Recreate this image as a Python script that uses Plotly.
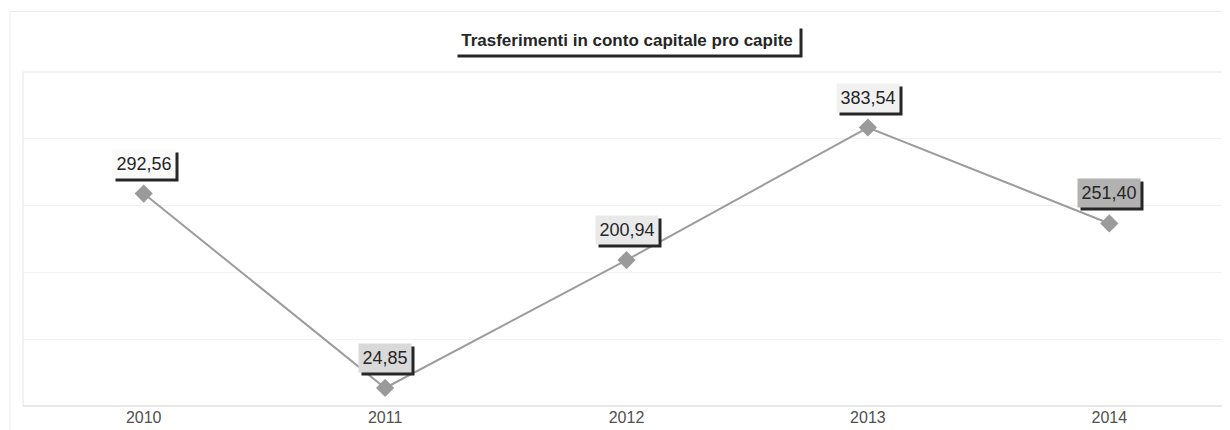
import plotly.graph_objects as go

years = ["2010", "2011", "2012", "2013", "2014"]
values = [292.56, 24.85, 200.94, 383.54, 251.40]
labels = ["292,56", "24,85", "200,94", "383,54", "251,40"]
label_bg = ["#fafafa", "#d9d9d9", "#e9e9e9", "#f1f1f1", "#b2b2b2"]

FONT = "Arial, Liberation Sans, sans-serif"
LIFT = 30

fig = go.Figure()
fig.add_trace(go.Scatter(
    x=years, y=values, mode="lines+markers",
    line=dict(color="#9c9c9c", width=2),
    marker=dict(symbol="diamond", size=14, color="#9a9a9a"),
    hoverinfo="skip", showlegend=False,
))

annotations = []
for i, (v, t, bg) in enumerate(zip(values, labels, label_bg)):
    w = 56 if len(t) == 6 else 46
    # shadow box (no text)
    annotations.append(dict(
        x=i, y=v, xref="x", yref="y", text="\u00a0", showarrow=False,
        width=w, height=22, font=dict(family=FONT, size=18),
        bgcolor="#262626", borderpad=3, xshift=3, yshift=LIFT - 3,
    ))
    annotations.append(dict(
        x=i, y=v, xref="x", yref="y", text=t, showarrow=False,
        width=w, height=22,
        font=dict(family=FONT, size=18, color="#262626"),
        bgcolor=bg, borderpad=3, xshift=0, yshift=LIFT,
    ))

title = "<b>Trasferimenti in conto capitale pro capite</b>"
annotations.append(dict(
    x=0.5, y=1.0, xref="paper", yref="paper", yanchor="bottom",
    yshift=17 - 3, xshift=3, text="\u00a0", showarrow=False,
    width=336, height=20, font=dict(family=FONT, size=17),
    bgcolor="#262626", borderpad=4,
))
annotations.append(dict(
    x=0.5, y=1.0, xref="paper", yref="paper", yanchor="bottom",
    yshift=17, text=title, showarrow=False, width=336, height=20,
    font=dict(family=FONT, size=17, color="#262626"),
    bgcolor="#ffffff", borderpad=4,
))

fig.update_layout(
    width=1222, height=422,
    margin=dict(l=15, r=0, t=64, b=24),
    paper_bgcolor="white", plot_bgcolor="white",
    annotations=annotations,
    xaxis=dict(
        type="category", range=[-0.5, 4.5], showgrid=False,
        zeroline=False, showline=False,
        tickfont=dict(family=FONT, size=16, color="#505050"),
        ticks="",
    ),
    yaxis=dict(
        range=[0, 460], showgrid=True, gridcolor="#f3f3f3", dtick=92,
        showticklabels=False, zeroline=False, showline=False, ticks="",
    ),
    shapes=[
        dict(type="rect", xref="paper", yref="paper", x0=0, x1=1, y0=0, y1=1,
             line=dict(color="#e6e6e6", width=1)),
        dict(type="line", xref="paper", yref="paper", x0=0, x1=1, y0=0, y1=0,
             line=dict(color="#dcdcdc", width=1)),
        dict(type="line", xref="paper", yref="paper", x0=-0.0108, x1=1,
             y0=1.181, y1=1.181, line=dict(color="#ececec", width=1)),
        dict(type="line", xref="paper", yref="paper", x0=-0.0108, x1=-0.0108,
             y0=-0.1, y1=1.181, line=dict(color="#ececec", width=1)),
    ],
)

fig.write_html("out.html")
